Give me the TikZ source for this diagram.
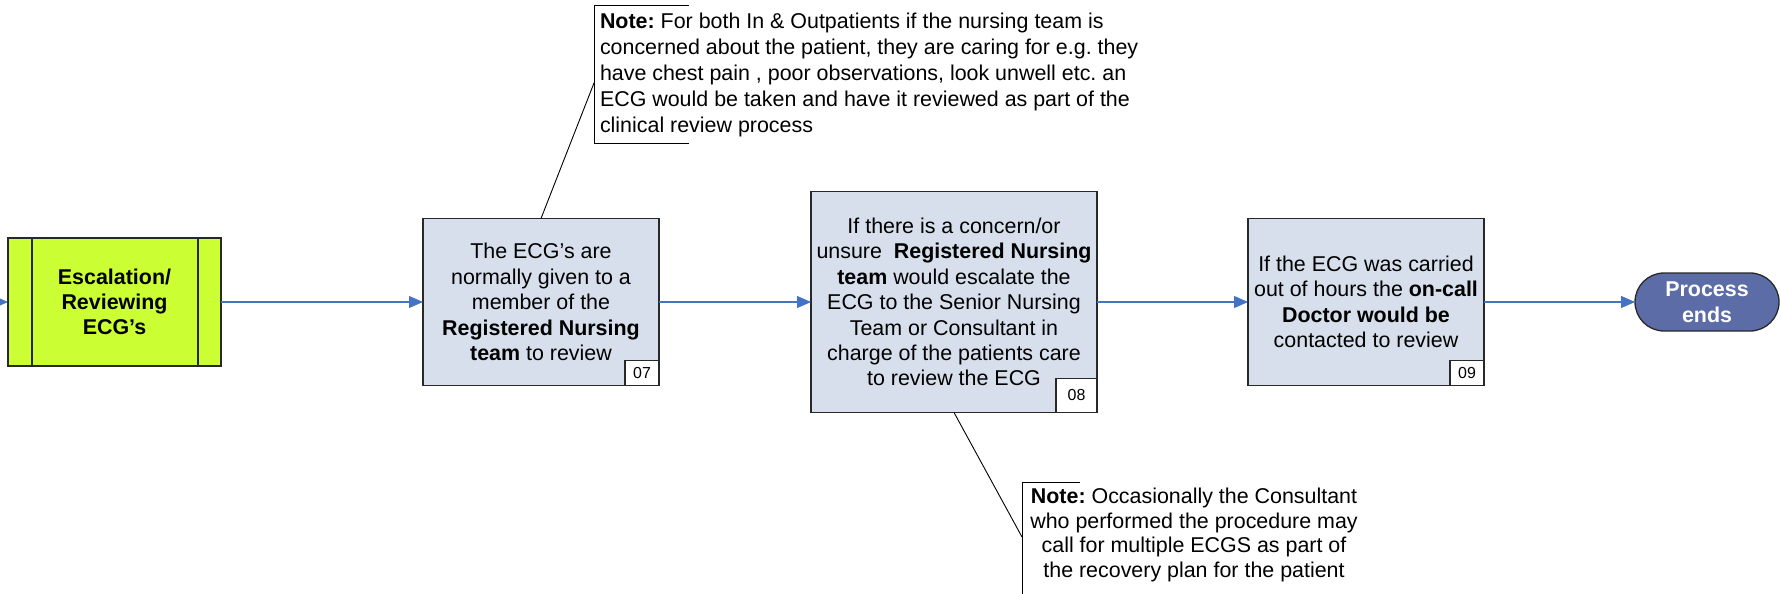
\documentclass[tikz,border=0pt]{standalone}
\usepackage{fontspec}
\setmainfont{Liberation Sans}
\usetikzlibrary{arrows.meta}
\frenchspacing
\definecolor{boxfill}{RGB}{214,223,235}
\definecolor{greenfill}{RGB}{204,255,51}
\definecolor{endfill}{RGB}{91,108,166}
\definecolor{arrowblue}{RGB}{68,114,196}
\definecolor{edgecol}{RGB}{40,40,40}
\begin{document}
\begin{tikzpicture}[x=1bp,y=-1bp,
  every node/.style={inner sep=0pt, outer sep=0pt},
  txt/.style={font=\fontsize{21.5}{25.5}\selectfont\frenchspacing, align=center},
  stepbox/.style={txt, draw=edgecol, line width=1.3bp, fill=boxfill},
  greenbox/.style={draw=edgecol, line width=1.3bp, fill=greenfill, align=center, font=\fontsize{21.5}{25}\selectfont\bfseries},
  endbox/.style={draw=edgecol, line width=1.3bp, fill=endfill, text=white, align=center, font=\fontsize{21.5}{26}\selectfont\bfseries},
  numbox/.style={draw=edgecol, line width=1.3bp, fill=white, font=\fontsize{16}{18}\selectfont, anchor=south east},
  flow/.style={draw=arrowblue, line width=1.1bp, -{Triangle[length=14bp,width=12bp]}},
  callout/.style={draw=black, line width=0.9bp},
  bracket/.style={draw=black, line width=1bp},
  notetxt/.style={font=\fontsize{21.5}{26}\selectfont\frenchspacing}
]
\useasboundingbox (0,0) rectangle (1781,594);
\clip (0,0) rectangle (1781,594);

% green sub-process box
\node[greenbox, minimum width=213bp, minimum height=128bp] (g) at (114.5,302) {Escalation/\\Reviewing\\ECG’s};
\draw[edgecol, line width=1.3bp] ([xshift=24bp]g.north west) -- ([xshift=24bp]g.south west);
\draw[edgecol, line width=1.3bp] ([xshift=-23bp]g.north east) -- ([xshift=-23bp]g.south east);

% process steps
\node[stepbox, minimum width=236bp, minimum height=167bp] (b07) at (541,302)
  {The ECG’s are\\normally given to a\\member of the\\\textbf{Registered Nursing}\\\textbf{team} to review};
\node[numbox, minimum width=34bp, minimum height=25bp] (n07) at (b07.south east) {07};

\node[stepbox, minimum width=286bp, minimum height=221bp] (b08) at (954,302)
  {If there is a concern/or\\unsure \ \textbf{Registered Nursing}\\\textbf{team} would escalate the\\ECG to the Senior Nursing\\Team or Consultant in\\charge of the patients care\\to review the ECG};
\node[numbox, minimum width=41bp, minimum height=34bp] (n08) at (b08.south east) {08};

\node[stepbox, minimum width=236bp, minimum height=167bp] (b09) at (1366,302)
  {If the ECG was carried\\out of hours the \textbf{on-call}\\\textbf{Doctor would be}\\contacted to review};
\node[numbox, minimum width=34bp, minimum height=25bp] (n09) at (b09.south east) {09};

% terminator
\node[endbox, minimum width=144bp, minimum height=58bp, rounded corners=29bp] (end) at (1707,302) {Process\\ends};

% flow arrows
\coordinate (in) at (-40,302);
\draw[flow] (in) -- (g.west);
\draw[flow] (g.east) -- (b07.west);
\draw[flow] (b07.east) -- (b08.west);
\draw[flow] (b08.east) -- (b09.west);
\draw[flow] (b09.east) -- (end.west);

% note 1
\node[notetxt, anchor=west, align=left] (note1) at (600,75)
  {\textbf{Note:} For both In \& Outpatients if the nursing team is\\concerned about the patient, they are caring for e.g. they\\have chest pain , poor observations, look unwell etc. an\\ECG would be taken and have it reviewed as part of the\\clinical review process};
\draw[bracket] (689,6) -- (594,6) -- (594,144) -- (689,144);
\coordinate (c1) at (594,83);
\draw[callout] (c1) -- (b07.north);

% note 2
\node[notetxt, align=center, font=\fontsize{21.5}{25}\selectfont\frenchspacing] (note2) at (1194,535)
  {\textbf{Note:} Occasionally the Consultant\\who performed the procedure may\\call for multiple ECGS as part of\\the recovery plan for the patient};
\draw[bracket] (1080,482) -- (1022,482) -- (1022,620);
\coordinate (c2) at (1022,537);
\draw[callout] (b08.south) -- (c2);
\end{tikzpicture}
\end{document}
